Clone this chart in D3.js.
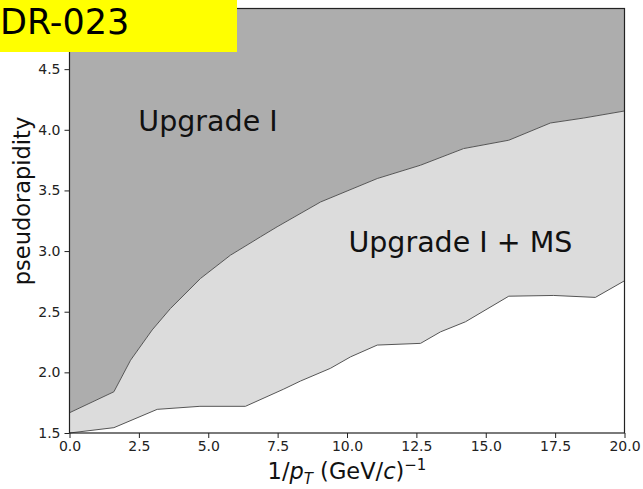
<!DOCTYPE html>
<meta charset="utf-8">
<style>
body { margin: 0; background: #fff; }
svg text { font-family: "DejaVu Sans", sans-serif; }
</style>
<svg id="chart" width="643" height="489"></svg>
<script src="https://d3js.org/d3.v7.min.js"></script>
<script>

// boundary between "Upgrade I" and "Upgrade I + MS"
var upperX = [0, 1.6, 2.2, 2.98, 3.64, 4.72, 5.8, 6.88, 7.48, 9.05, 11.09, 12.65, 14.2, 15.83, 17.33, 18.53, 20];
var upperEta = [1.667, 1.84, 2.10, 2.35, 2.527, 2.774, 2.966, 3.117, 3.2, 3.405, 3.598, 3.708, 3.845, 3.914, 4.056, 4.097, 4.155];

// lower edge of "Upgrade I + MS"
var lowerX = [0, 1.6, 3.16, 4.7, 6.34, 7.72, 8.32, 9.4, 10.13, 11.09, 12.65, 13.37, 14.27, 15.83, 17.45, 18.95, 20];
var lowerEta = [1.5, 1.544, 1.695, 1.72, 1.72, 1.862, 1.928, 2.033, 2.128, 2.225, 2.239, 2.334, 2.417, 2.628, 2.634, 2.618, 2.755];

var xTicks = [0, 2.5, 5, 7.5, 10, 12.5, 15, 17.5, 20];
var yTicks = [1.5, 2.0, 2.5, 3.0, 3.5, 4.0, 4.5];

var svg = d3.select("svg"),
    margin = {top: 8.5, right: 18.5, bottom: 56, left: 69.5},
    width = +svg.attr("width") - margin.left - margin.right,
    height = +svg.attr("height") - margin.top - margin.bottom,
    g = svg.append("g").attr("transform", "translate(" + margin.left + "," + margin.top + ")");

var x = d3.scaleLinear().domain([0, 20]).range([0, width]);
var y = d3.scaleLinear().domain([1.5, 5.0]).range([height, 0]);

var upper = upperX.map(function(d, i) { return [d, upperEta[i]]; });
var lower = lowerX.map(function(d, i) { return [d, lowerEta[i]]; });

var line = d3.line()
    .x(function(d) { return x(d[0]); })
    .y(function(d) { return y(d[1]); });

// dark region above the upper boundary
g.append("path")
    .datum(upper)
    .attr("fill", "#adadad")
    .attr("d", d3.area()
        .x(function(d) { return x(d[0]); })
        .y0(y(5.0))
        .y1(function(d) { return y(d[1]); }));

// light band between the two boundaries
g.append("path")
    .datum(upper.concat(lower.slice().reverse()))
    .attr("fill", "#dcdcdc")
    .attr("d", function(d) { return line(d) + "Z"; });

g.selectAll(".edge")
  .data([upper, lower])
  .enter().append("path")
    .attr("class", "edge")
    .attr("fill", "none")
    .attr("stroke", "#555")
    .attr("stroke-width", 1)
    .attr("d", line);

g.append("text")
    .attr("x", x(2.48))
    .attr("y", y(4.0) + 1)
    .attr("font-size", 28.5)
    .attr("fill", "#111")
    .text("Upgrade I");

g.append("text")
    .attr("x", x(10.05))
    .attr("y", y(3.0) + 1)
    .attr("font-size", 28.5)
    .attr("fill", "#111")
    .text("Upgrade I + MS");

// axes
var xAxis = g.append("g")
    .attr("transform", "translate(0," + height + ")")
    .call(d3.axisBottom(x).tickValues(xTicks).tickFormat(d3.format(".1f")).tickSize(5).tickPadding(3));

var yAxis = g.append("g")
    .call(d3.axisLeft(y).tickValues(yTicks).tickFormat(d3.format(".1f")).tickSize(5).tickPadding(4));

[xAxis, yAxis].forEach(function(a) {
  a.selectAll("text").attr("font-family", "DejaVu Sans").attr("font-size", 14).attr("fill", "#222");
  a.selectAll("line").attr("stroke", "#222");
  a.select(".domain").remove();
});

// frame
g.append("rect")
    .attr("width", width)
    .attr("height", height)
    .attr("fill", "none")
    .attr("stroke", "#222")
    .attr("stroke-width", 1.2);

// axis titles
svg.append("text")
    .attr("transform", "translate(30,201) rotate(-90)")
    .attr("text-anchor", "middle")
    .attr("font-size", 22.5)
    .attr("fill", "#111")
    .text("pseudorapidity");

var xl = svg.append("text")
    .attr("x", margin.left + width / 2)
    .attr("y", 479)
    .attr("text-anchor", "middle")
    .attr("font-size", 22.5)
    .attr("fill", "#111");
xl.append("tspan").text("1/");
xl.append("tspan").attr("font-style", "italic").text("p");
xl.append("tspan").attr("font-style", "italic").attr("font-size", 15).attr("dy", 5).text("T");
xl.append("tspan").attr("dy", -5).text(" (GeV/");
xl.append("tspan").attr("font-style", "italic").text("c");
xl.append("tspan").text(")");
xl.append("tspan").attr("font-size", 15).attr("dy", -9).text("\u22121");

// document tag
svg.append("rect")
    .attr("x", 0).attr("y", 0)
    .attr("width", 237).attr("height", 52)
    .attr("fill", "#ffff00");

svg.append("text")
    .attr("x", 0)
    .attr("y", 34)
    .attr("font-family", "Liberation Sans, Arial, sans-serif")
    .attr("font-size", 35)
    .attr("fill", "#000")
    .text("DR-023");

</script>
